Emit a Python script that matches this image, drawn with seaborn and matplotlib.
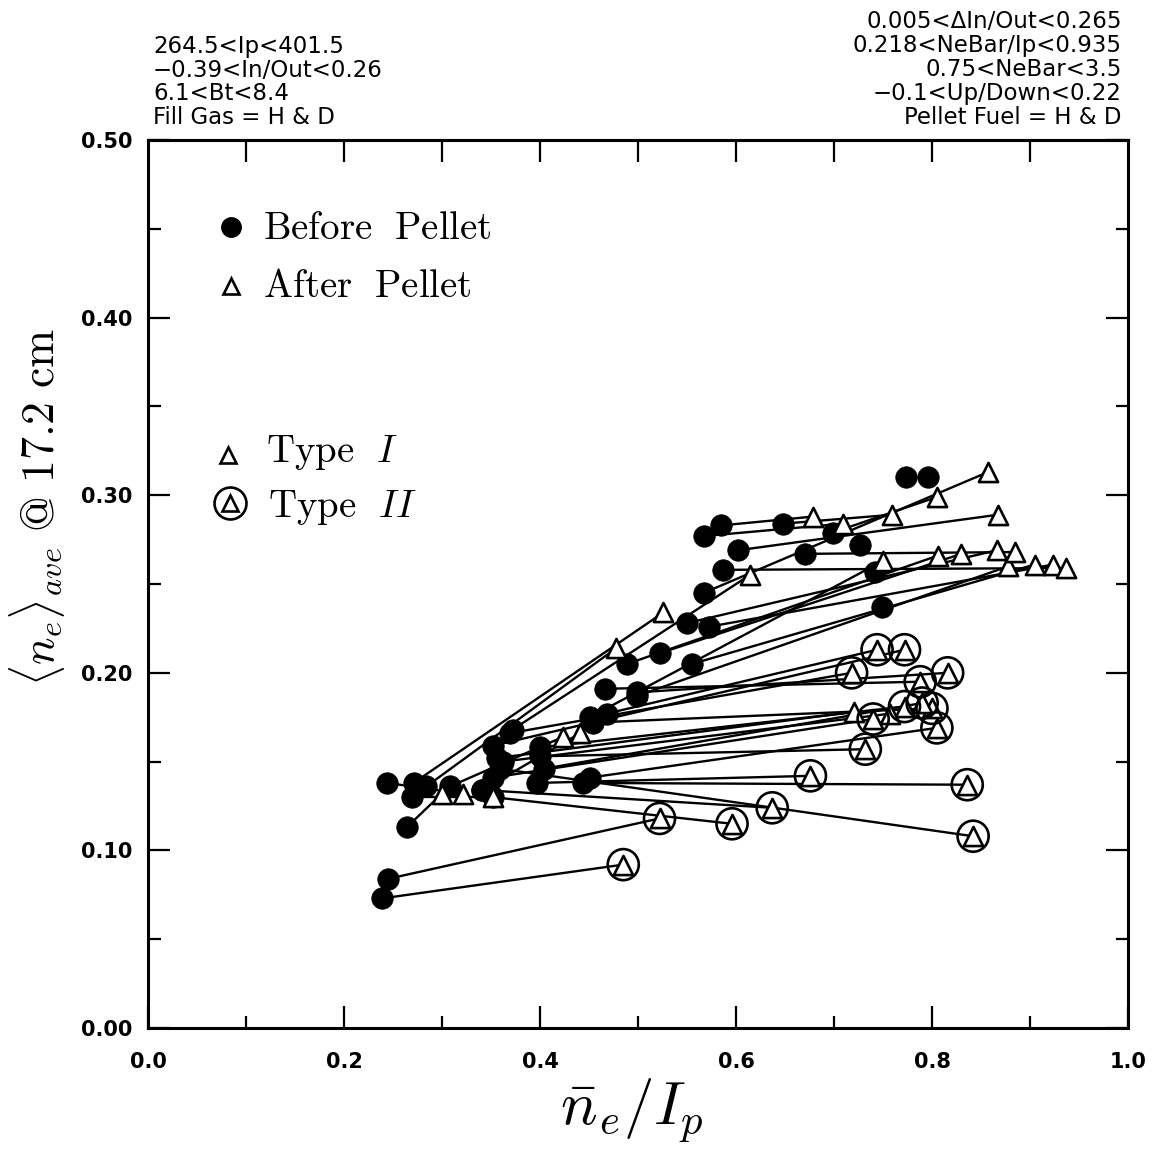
import numpy as np
import pandas as pd
import matplotlib
matplotlib.use('Agg')
import matplotlib.pyplot as plt
import seaborn as sns

# before-pellet points (filled dots) and the after-pellet point each one is joined to
before_x = [0.239, 0.245, 0.352, 0.341, 0.397, 0.444, 0.359, 0.400, 0.352, 0.400,
            0.451, 0.454, 0.369, 0.468, 0.352, 0.466, 0.499,
            0.244, 0.264, 0.269, 0.271, 0.284, 0.308, 0.341, 0.372, 0.451, 0.489,
            0.499, 0.522, 0.555, 0.550, 0.573, 0.567, 0.587, 0.602, 0.567, 0.585,
            0.648, 0.699, 0.670, 0.727, 0.742, 0.774, 0.796, 0.749,
            0.362, 0.356, 0.404]
before_y = [0.073, 0.084, 0.130, 0.134, 0.138, 0.138, 0.146, 0.153, 0.141, 0.158,
            0.141, 0.172, 0.166, 0.177, 0.159, 0.191, 0.189,
            0.138, 0.113, 0.130, 0.138, 0.136, 0.136, 0.134, 0.168, 0.175, 0.205,
            0.187, 0.211, 0.205, 0.228, 0.226, 0.245, 0.258, 0.269, 0.277, 0.283,
            0.284, 0.279, 0.267, 0.272, 0.257, 0.310, 0.310, 0.237,
            0.150, 0.152, 0.146]
nan = float('nan')
after_x = [0.485, 0.522, 0.596, 0.637, 0.676, 0.836, 0.842, 0.732, 0.740, 0.772,
           0.805, 0.800, 0.718, 0.744, 0.772, 0.788, 0.816,
           0.321, 0.300, 0.352, 0.526, 0.478, 0.424, 0.441, 0.614, 0.750, 0.806,
           0.878, 0.830, 0.905, 0.866, 0.924, 0.857, 0.937, 0.867, 0.709, 0.679,
           0.759, 0.805, 0.885, nan, nan, nan, nan, nan,
           0.757, 0.720, 0.790]
after_y = [0.092, 0.118, 0.115, 0.124, 0.142, 0.137, 0.108, 0.157, 0.174, 0.181,
           0.169, 0.180, 0.200, 0.213, 0.213, 0.195, 0.200,
           0.132, 0.132, 0.130, 0.234, 0.214, 0.164, 0.166, 0.255, 0.263, 0.266,
           0.260, 0.267, 0.261, 0.269, 0.261, 0.313, 0.259, 0.289, 0.284, 0.288,
           0.289, 0.299, 0.268, nan, nan, nan, nan, nan,
           0.177, 0.178, 0.183]
after_type = ['II'] * 17 + ['I'] * 23 + [''] * 5 + ['I', 'I', 'II']

left_header = ['264.5<Ip<401.5', '\u22120.39<In/Out<0.26', '6.1<Bt<8.4', 'Fill Gas = H & D']
right_header = ['0.005<\u0394In/Out<0.265', '0.218<NeBar/Ip<0.935', '0.75<NeBar<3.5',
                '\u22120.1<Up/Down<0.22', 'Pellet Fuel = H & D']

pts = pd.DataFrame({'bx': before_x, 'by': before_y, 'ax': after_x, 'ay': after_y,
                    'kind': after_type})
pts['pair'] = range(len(pts))
paired = pts.dropna(subset=['ax'])
lines = pd.concat([
    paired[['pair', 'bx', 'by']].rename(columns={'bx': 'x', 'by': 'y'}),
    paired[['pair', 'ax', 'ay']].rename(columns={'ax': 'x', 'ay': 'y'}),
])
type2 = paired[paired['kind'] == 'II']

sns.set_style('ticks')
plt.rcParams['font.family'] = ['DejaVu Sans']
plt.rcParams['mathtext.fontset'] = 'cm'
plt.rcParams['text.color'] = 'black'
plt.rcParams['axes.edgecolor'] = 'black'
plt.rcParams['xtick.color'] = 'black'
plt.rcParams['ytick.color'] = 'black'

fig = plt.figure(figsize=(11.65, 11.49), dpi=100)
ax = fig.add_axes([0.1270, 0.1053, 0.8412, 0.7728])

sns.lineplot(data=lines, x='x', y='y', units='pair', estimator=None, sort=False,
             color='black', lw=1.7, legend=False, ax=ax, zorder=2)
sns.scatterplot(data=pts, x='bx', y='by', marker='o', s=240, color='black',
                edgecolor='black', linewidth=0.5, ax=ax, zorder=3)
sns.scatterplot(data=paired, x='ax', y='ay', marker='^', s=190, color='white',
                edgecolor='black', linewidth=1.9, ax=ax, zorder=4)
sns.scatterplot(data=type2, x='ax', y='ay', marker='o', s=500, facecolor='none',
                edgecolor='black', linewidth=1.9, ax=ax, zorder=4)

ax.set_xlim(0, 1.0)
ax.set_ylim(0, 0.5)
ax.set_xticks(np.arange(0, 1.01, 0.2))
ax.set_xticks(np.arange(0.1, 1.0, 0.2), minor=True)
ax.set_yticks(np.arange(0, 0.51, 0.1))
ax.set_yticks(np.arange(0.05, 0.5, 0.1), minor=True)
ax.set_xticklabels(['%.1f' % v for v in np.arange(0, 1.01, 0.2)], fontweight='bold')
ax.set_yticklabels(['%.2f' % v for v in np.arange(0, 0.51, 0.1)], fontweight='bold')
ax.tick_params(which='both', direction='in', right=True, top=False, width=1.6,
               labelsize=15)
ax.tick_params(axis='x', pad=17)
ax.tick_params(axis='y', pad=11)
ax.tick_params(which='major', length=16)
ax.tick_params(which='minor', length=9)
for sp in ax.spines.values():
    sp.set_linewidth(2.2)
top = ax.secondary_xaxis('top')
top.set_xticks(np.arange(0.1, 1.0, 0.1))
top.tick_params(direction='in', length=16, width=1.6, labeltop=False)
top.spines['top'].set_linewidth(2.2)
ax.set_xlabel('')
ax.set_ylabel('')

# legend block drawn by hand
ax.plot([0.085], [0.902], 'o', ms=14, color='black', transform=ax.transAxes)
ax.plot([0.085], [0.836], '^', ms=12, mfc='white', mec='black', mew=1.9,
        transform=ax.transAxes)
ax.plot([0.082], [0.645], '^', ms=12, mfc='white', mec='black', mew=1.9,
        transform=ax.transAxes)
ax.plot([0.084], [0.591], '^', ms=12, mfc='white', mec='black', mew=1.9,
        transform=ax.transAxes)
ax.plot([0.084], [0.591], 'o', ms=23, mfc='none', mec='black', mew=1.9,
        transform=ax.transAxes)
ax.text(0.117, 0.8885, r'$\mathrm{Before\ \ Pellet}$', fontsize=28,
        transform=ax.transAxes, va='baseline')
ax.text(0.117, 0.823, r'$\mathrm{After\ \ Pellet}$', fontsize=28,
        transform=ax.transAxes, va='baseline')
ax.text(0.120, 0.637, r'$\mathrm{Type}\ \ I$', fontsize=28,
        transform=ax.transAxes, va='baseline')
ax.text(0.122, 0.575, r'$\mathrm{Type}\ \ II$', fontsize=28,
        transform=ax.transAxes, va='baseline')

for i, s in enumerate(left_header):
    fig.text(0.1313, 1 - (47 + 23.5 * i) / 1149, s, fontsize=16.5, va='center', ha='left')
for i, s in enumerate(right_header):
    fig.text(0.963, 1 - (22 + 23.8 * i) / 1149, s, fontsize=16.5, va='center', ha='right')

fig.text(37 / 1165, 1 - 507 / 1149, r'$\langle n_e\rangle_{ave}\ \mathrm{@\ 17.2\ cm}$',
         fontsize=33, rotation=90, ha='center', va='center')
fig.text(632 / 1165, 1 - 1110 / 1149, r'$\bar{n}_e/I_p$', fontsize=44,
         ha='center', va='center')

fig.savefig('out.png', dpi=100)
